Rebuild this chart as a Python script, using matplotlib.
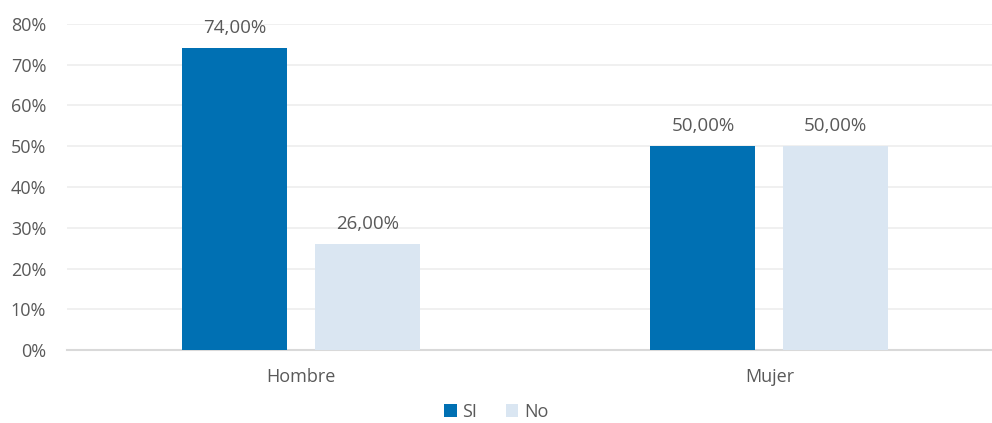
import matplotlib.pyplot as plt
import numpy as np

categories = ["Hombre", "Mujer"]
si_values = [0.74, 0.50]
no_values = [0.26, 0.50]
series_names = ["SI", "No"]

plt.rcParams['font.family'] = ['Open Sans', 'DejaVu Sans']
text_color = "#595959"

fig = plt.figure(figsize=(9.92, 4.23), dpi=100)
W, H = 992, 423
ax = fig.add_axes([67 / W, (H - 350) / H, 936.5 / W, 326 / H])

x = np.arange(len(categories))
bw = 0.224
off = 0.142
b1 = ax.bar(x - off, si_values, bw, color="#0070B3", label=series_names[0], zorder=3)
b2 = ax.bar(x + off, no_values, bw, color="#DAE6F2", label=series_names[1], zorder=3)

for bars, vals in [(b1, si_values), (b2, no_values)]:
    for rect, v in zip(bars, vals):
        ax.annotate(f"{v * 100:.2f}%".replace(".", ","),
                    (rect.get_x() + rect.get_width() / 2, v),
                    xytext=(0, 8), textcoords="offset points",
                    ha="center", va="bottom", fontsize=13.5, color=text_color)

ax.set_xlim(-0.5, 1.5)
ax.set_ylim(0, 0.8)
ax.set_yticks(np.arange(0, 0.81, 0.1))
ax.set_yticklabels([f"{int(round(t * 100))}%" for t in np.arange(0, 0.81, 0.1)])
ax.set_xticks(x)
ax.set_xticklabels(categories)
ax.tick_params(axis="both", length=0, labelsize=13, colors=text_color)
ax.tick_params(axis="y", pad=15)
ax.tick_params(axis="x", pad=13)

ax.grid(axis="y", color="#EDEDED", linewidth=1.2, zorder=0)
ax.set_axisbelow(True)
for s in ["top", "right", "left"]:
    ax.spines[s].set_visible(False)
ax.spines["bottom"].set_color("#D9D9D9")
ax.spines["bottom"].set_linewidth(1.5)

fig.legend(handles=[b1, b2], loc="center", bbox_to_anchor=(0.5, 1 - 412 / H),
           ncol=2, frameon=False, fontsize=13, handlelength=0.7, handleheight=0.7,
           handletextpad=0.3, columnspacing=1.6, labelcolor=text_color)

fig.savefig("out.png", dpi=100)
